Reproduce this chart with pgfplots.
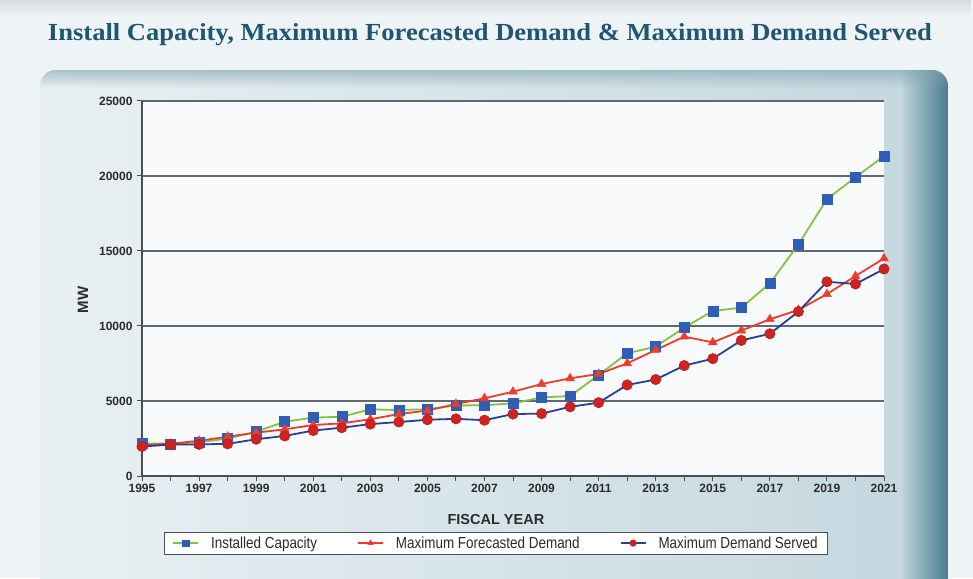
\documentclass[border=0pt]{standalone}
\usepackage{pgfplots}
\pgfplotsset{compat=1.18}
\usepackage{fontspec}
\setmainfont{Liberation Sans}
\newfontfamily\narrowfont[FakeStretch=0.84]{Liberation Sans}
\newfontfamily\titlefont{Liberation Serif}
\usetikzlibrary{fadings}
\definecolor{bgc}{HTML}{EEF3F6}
\definecolor{topband}{HTML}{DADDE0}
\definecolor{panelL}{HTML}{E9F0F3}
\definecolor{panelR}{HTML}{C3D7DE}
\definecolor{panelEdge}{HTML}{4A7D90}
\definecolor{plotbg}{HTML}{F8FAFB}
\definecolor{gridc}{HTML}{5E6A70}
\definecolor{axisc}{HTML}{4A4F53}
\definecolor{txt}{HTML}{2B2B2B}
\definecolor{titlec}{HTML}{1F5670}
\definecolor{icline}{HTML}{82C341}
\definecolor{icmark}{HTML}{2E5FB8}
\definecolor{fdred}{HTML}{F03A2E}
\definecolor{dsline}{HTML}{25418F}
\definecolor{dsmark}{HTML}{D0231F}

\pgfplotstableread{
year ic fd ds
1995 2180 2050 1970
1996 2150 2150 2090
1997 2250 2350 2110
1998 2500 2620 2140
1999 2950 2890 2450
2000 3620 3110 2670
2001 3890 3400 3030
2002 3950 3510 3220
2003 4440 3780 3460
2004 4400 4130 3600
2005 4450 4360 3750
2006 4700 4800 3810
2007 4720 5180 3720
2008 4840 5620 4130
2009 5240 6130 4160
2010 5330 6510 4610
2011 6730 6800 4890
2012 8180 7510 6070
2013 8620 8400 6430
2014 9890 9290 7360
2015 11000 8910 7820
2016 11220 9690 9040
2017 12840 10450 9480
2018 15440 11070 10960
2019 18460 12130 12950
2020 19910 13330 12800
2021 21330 14510 13800
}\datatable

\begin{document}
\begin{tikzpicture}[x=1pt,y=1pt]
\useasboundingbox (0pt,0pt) rectangle (973pt,578pt);
% page background
\fill[bgc] (0pt,0pt) rectangle (973pt,578pt);
\fill[topband, path fading=south] (0pt,562pt) rectangle (973pt,578pt);
% pillow panel
\begin{scope}
\clip[rounded corners=16pt] (40pt,-30pt) rectangle (948pt,508pt);
\shade[left color=panelL, right color=panelR] (40pt,-30pt) rectangle (948pt,508pt);
\fill[panelEdge, path fading=west] (900pt,-30pt) rectangle (948pt,508pt);
\fill[panelEdge!70, path fading=south, opacity=0.6] (40pt,490pt) rectangle (948pt,508pt);
\end{scope}
% title
\node[text=titlec, anchor=base, inner sep=0pt] at (490pt,537pt)
  {\resizebox{884pt}{17pt}{\titlefont\bfseries\fontsize{22}{24}\selectfont Install Capacity, Maximum Forecasted Demand \& Maximum Demand Served}};

\begin{axis}[
  at={(142pt,102pt)}, anchor=south west,
  width=742pt, height=375pt, scale only axis,
  xmin=1995, xmax=2021, ymin=0, ymax=25000,
  axis x line*=bottom, axis y line*=left,
  axis line style={axisc, line width=1.2pt},
  axis background/.style={fill=plotbg},
  ymajorgrids, major grid style={gridc, line width=1.1pt},
  xtick={1995,1997,...,2021},
  minor xtick={1996,1998,...,2020},
  ytick={0,5000,...,25000},
  tick align=outside,
  major tick length=5pt, minor tick length=5pt,
  every tick/.style={axisc, line width=1pt},
  scaled y ticks=false,
  /pgf/number format/.cd, 1000 sep={}, assume math mode=true,
  /pgfplots/.cd,
  ticklabel style={font=\bfseries\fontsize{12}{12}\selectfont, text=txt},
  yticklabel style={xshift=-1pt},
  xlabel={FISCAL YEAR},
  xlabel style={at={(axis description cs:0.477,-0.1147)}, anchor=center,
    font=\bfseries\fontsize{14.5}{15}\selectfont, text=txt},
  ylabel={MW},
  ylabel style={at={(axis description cs:-0.0795,0.469)}, anchor=center,
    font=\bfseries\fontsize{15}{15}\selectfont, text=txt},
  legend columns=3,
  legend style={at={(0.477,-0.179)}, anchor=center, draw=axisc, line width=0.8pt,
    fill=white, font=\narrowfont\fontsize{16}{17}\selectfont, text=txt,
    inner xsep=8pt, inner ysep=2.5pt,
    /tikz/every odd column/.append style={column sep=10pt},
    /tikz/every even column/.append style={column sep=38pt}},
  legend cell align=left,
  legend image code/.code={\draw[mark repeat=2, mark phase=2, mark size=3.2pt]
    plot coordinates {(0pt,0pt)(12.5pt,0pt)(25pt,0pt)};},
]
\addplot[icline, line width=1.8pt, mark=square*, mark size=5pt,
  mark options={fill=icmark, draw=icmark, line width=0.5pt}]
  table[x=year, y=ic] {\datatable};
\addlegendentry{Installed Capacity}
\addplot[fdred, line width=1.8pt, mark=triangle*, mark size=5pt,
  mark options={fill=fdred, draw=fdred, line width=0.5pt}]
  table[x=year, y=fd] {\datatable};
\addlegendentry{Maximum Forecasted Demand}
\addplot[dsline, line width=1.8pt, mark=*, mark size=5.2pt,
  mark options={fill=dsmark, draw=dsmark!85!black, line width=0.5pt}]
  table[x=year, y=ds] {\datatable};
\addlegendentry{Maximum Demand Served}
\end{axis}
\end{tikzpicture}
\end{document}
